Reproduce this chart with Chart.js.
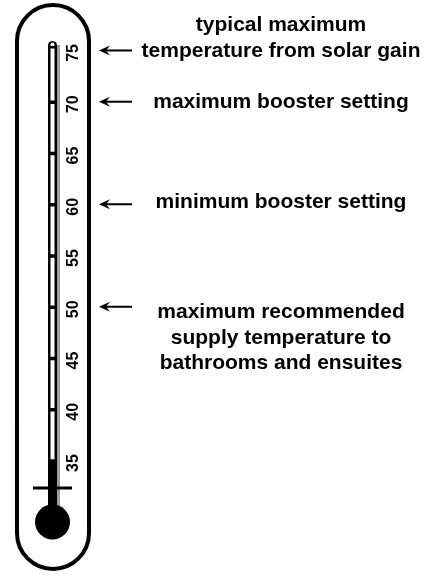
<!DOCTYPE html>
<html><head><meta charset="utf-8">
<script src="https://cdn.jsdelivr.net/npm/chart.js@4"></script>
<style>html,body{margin:0;padding:0;background:#fff;overflow:hidden}</style>
</head><body>
<canvas id="c" width="436" height="575"></canvas>
<script>
// ---- data ----
const tickValues = [35, 40, 45, 50, 55, 60, 65, 70, 75];
const tickLabels = ['35', '40', '45', '50', '55', '60', '65', '70', '75'];
const mercuryLevel = 35;
const noteValues = [75, 70, 60, 50];
const noteTexts = [
  ['typical maximum', 'temperature from solar gain'],
  ['maximum booster setting'],
  ['minimum booster setting'],
  ['maximum recommended', 'supply temperature to', 'bathrooms and ensuites']
];
const scaleMin = 23.98;
const scaleMax = 80.07;

// ---- layout (not data) ----
const L = {
  capL: 17, capR: 89, capT: 5, capB: 569,
  tubeL: 48, tubeR: 57, tubeTop: 41,
  bulbX: 52.5, bulbY: 522, bulbR: 17.5,
  barY: 488, barL: 33, barR: 72,
  labelX: 72,
  arrowL: 99, arrowR: 132,
  textX: 281, lineH: 25.5,
  noteAnchor: [1, 0, 0, 0],
  noteShift: [1, 1, -2, 6]
};
const FONT = '"Liberation Sans", Arial, sans-serif';

const thermo = {
  id: 'thermo',
  afterDraw(chart) {
    const ctx = chart.ctx, ys = chart.scales.y;
    const px = v => ys.getPixelForValue(v);
    ctx.save();
    // outer capsule
    const r = (L.capR - L.capL) / 2;
    const cx = L.capL + r;
    ctx.lineWidth = 4; ctx.strokeStyle = '#000';
    ctx.beginPath();
    ctx.moveTo(L.capL, L.capT + r);
    ctx.arc(cx, L.capT + r, r, Math.PI, 0);
    ctx.lineTo(L.capR, L.capB - r);
    ctx.arc(cx, L.capB - r, r, 0, Math.PI);
    ctx.closePath(); ctx.stroke();

    // shadow
    ctx.fillStyle = '#9c9c9c';
    ctx.fillRect(L.tubeR, L.tubeTop + 4, 3, L.bulbY - L.tubeTop - 4);

    // tube (black outer)
    const tc = (L.tubeL + L.tubeR) / 2, tr = (L.tubeR - L.tubeL) / 2;
    ctx.fillStyle = '#000';
    ctx.beginPath();
    ctx.moveTo(L.tubeL, L.bulbY);
    ctx.lineTo(L.tubeL, L.tubeTop + tr);
    ctx.arc(tc, L.tubeTop + tr, tr, Math.PI, 0);
    ctx.lineTo(L.tubeR, L.bulbY);
    ctx.closePath(); ctx.fill();

    // inner white down to mercury level
    const mp = px(mercuryLevel);
    ctx.fillStyle = '#fff';
    ctx.beginPath();
    ctx.moveTo(tc - 2, mp);
    ctx.lineTo(tc - 2, L.tubeTop + 3.5);
    ctx.arc(tc, L.tubeTop + 3.5, 2, Math.PI, 0);
    ctx.lineTo(tc + 2, mp);
    ctx.closePath(); ctx.fill();

    // top closing bar
    ctx.fillStyle = '#000';
    ctx.fillRect(L.tubeL, L.tubeTop + 5, L.tubeR - L.tubeL, 2.5);

    // tick marks
    tickValues.forEach(v => {
      const p = px(v) - 1;
      if (p > L.tubeTop + 10) ctx.fillRect(L.tubeL, p - 1.75, L.tubeR - L.tubeL, 3.5);
    });

    // crossbar and bulb
    ctx.fillRect(L.barL, L.barY - 1.5, L.barR - L.barL, 3);
    ctx.beginPath();
    ctx.arc(L.bulbX, L.bulbY, L.bulbR, 0, Math.PI * 2);
    ctx.fill();

    // tick labels (rotated)
    ctx.font = 'bold 16px ' + FONT;
    ctx.textAlign = 'center'; ctx.textBaseline = 'alphabetic';
    tickValues.forEach((v, i) => {
      ctx.save();
      ctx.translate(L.labelX, px(v) + 1);
      ctx.rotate(-Math.PI / 2);
      ctx.fillText(tickLabels[i], 0, 5.7);
      ctx.restore();
    });

    // arrows and notes
    ctx.font = 'bold 21px ' + FONT;
    noteValues.forEach((v, i) => {
      const ay = px(v) - 1.5;
      ctx.lineWidth = 2;
      ctx.beginPath();
      ctx.moveTo(L.arrowL + 5, ay); ctx.lineTo(L.arrowR, ay); ctx.stroke();
      ctx.beginPath();
      ctx.moveTo(L.arrowL, ay);
      ctx.lineTo(L.arrowL + 11, ay - 5);
      ctx.lineTo(L.arrowL + 7, ay);
      ctx.lineTo(L.arrowL + 11, ay + 5);
      ctx.closePath(); ctx.fill();
      const y0 = ay - L.noteAnchor[i] * L.lineH + L.noteShift[i];
      noteTexts[i].forEach((t, j) => {
        ctx.fillText(t, L.textX, y0 + j * L.lineH + 5.5);
      });
    });
    ctx.restore();
  }
};

new Chart(document.getElementById('c'), {
  type: 'scatter',
  data: { datasets: [{ data: [], showLine: false }] },
  options: {
    responsive: false, animation: false, devicePixelRatio: 1,
    layout: { padding: 0 },
    plugins: { legend: { display: false }, tooltip: { enabled: false } },
    scales: {
      x: { display: false, min: 0, max: 436 },
      y: { display: false, min: scaleMin, max: scaleMax }
    }
  },
  plugins: [thermo]
});
</script>
</body></html>
